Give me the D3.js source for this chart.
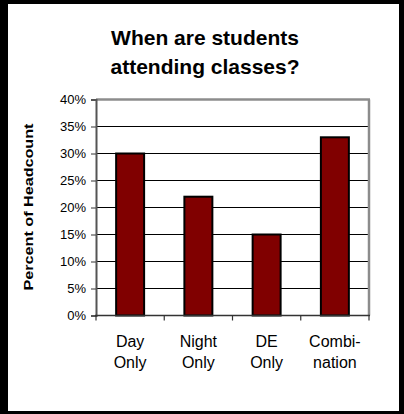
<!DOCTYPE html>
<html>
<head>
<meta charset="utf-8">
<script src="https://cdn.jsdelivr.net/npm/d3@7"></script>
<style>
  html, body { margin: 0; padding: 0; background: #fff; }
  svg { display: block; font-family: "Liberation Sans", Arial, sans-serif; }
</style>
</head>
<body>
<svg id="chart" width="404" height="414"></svg>
<script>
const categories = [["Day", "Only"], ["Night", "Only"], ["DE", "Only"], ["Combi-", "nation"]];
const values = [30, 22, 15, 33];
const yTicks = [0, 5, 10, 15, 20, 25, 30, 35, 40];
const titleLines = ["When are students", "attending classes?"];
const yTitle = "Percent of Headcount";

const svg = d3.select("#chart");

// Outer frame
svg.append("rect").attr("x", 0).attr("y", 0).attr("width", 404).attr("height", 414).attr("fill", "#000");
svg.append("rect").attr("x", 8).attr("y", 4).attr("width", 391).attr("height", 407).attr("fill", "#fff");

const pLeft = 96, pRight = 369, pTop = 99.5, pBottom = 315.5;

const x = d3.scaleBand()
  .domain(d3.range(categories.length))
  .range([pLeft, pRight])
  .paddingInner(0.59)
  .paddingOuter(0.295);

const y = d3.scaleLinear().domain([0, 40]).range([pBottom, pTop]);

// Title
svg.append("text")
  .attr("text-anchor", "middle")
  .attr("font-weight", "bold")
  .attr("font-size", 21)
  .attr("fill", "#000")
  .selectAll("tspan")
  .data(titleLines)
  .join("tspan")
  .attr("x", 205)
  .attr("y", (d, i) => 45 + i * 29)
  .text(d => d);

// Gridlines (5%..35%)
svg.append("g")
  .selectAll("line")
  .data(yTicks.filter(t => t > 0 && t < 40))
  .join("line")
  .attr("x1", pLeft).attr("x2", pRight)
  .attr("y1", d => y(d)).attr("y2", d => y(d))
  .attr("stroke", "#000").attr("stroke-width", 1);

// Plot border (top & right, gray)
svg.append("line").attr("x1", pLeft).attr("x2", pRight + 1).attr("y1", y(40)).attr("y2", y(40))
  .attr("stroke", "#8c8c8c").attr("stroke-width", 2.5);
svg.append("line").attr("x1", pRight).attr("x2", pRight).attr("y1", y(40)).attr("y2", pBottom)
  .attr("stroke", "#8c8c8c").attr("stroke-width", 2.5);

// Bars
svg.append("g")
  .selectAll("rect")
  .data(values)
  .join("rect")
  .attr("x", (d, i) => x(i))
  .attr("y", d => y(d))
  .attr("width", x.bandwidth())
  .attr("height", d => pBottom - y(d))
  .attr("fill", "#800000")
  .attr("stroke", "#000")
  .attr("stroke-width", 2);

// Y axis
const yAxis = d3.axisLeft(y)
  .tickValues(yTicks)
  .tickFormat(d => d + "%")
  .tickSize(5)
  .tickPadding(5);
const gy = svg.append("g").attr("transform", `translate(${pLeft},0)`).call(yAxis);
gy.select(".domain").attr("stroke", "#555").attr("stroke-width", 2);
gy.selectAll(".tick line").attr("stroke", "#555").attr("stroke-width", 1.2);
gy.selectAll(".tick text")
  .attr("font-family", "Liberation Sans, Arial, sans-serif")
  .attr("font-size", 13)
  .attr("fill", "#000");

// X axis (ticks at category boundaries)
svg.append("line").attr("x1", pLeft - 1).attr("x2", pRight + 1).attr("y1", pBottom).attr("y2", pBottom)
  .attr("stroke", "#333").attr("stroke-width", 1.5);
const bounds = d3.range(categories.length + 1).map(i => pLeft + i * x.step());
svg.append("g")
  .selectAll("line")
  .data(bounds)
  .join("line")
  .attr("x1", d => d).attr("x2", d => d)
  .attr("y1", pBottom).attr("y2", pBottom + 5)
  .attr("stroke", "#333").attr("stroke-width", 1.2);

// X labels
svg.append("g")
  .selectAll("text")
  .data(categories)
  .join("text")
  .attr("text-anchor", "middle")
  .attr("font-size", 16)
  .attr("fill", "#000")
  .each(function(d, i) {
    const cx = x(i) + x.bandwidth() / 2;
    d3.select(this).selectAll("tspan")
      .data(d)
      .join("tspan")
      .attr("x", cx)
      .attr("y", (t, j) => 347 + j * 21)
      .text(t => t);
  });

// Y title
svg.append("text")
  .attr("transform", "translate(33,207) rotate(-90)")
  .attr("text-anchor", "middle")
  .attr("font-weight", "bold")
  .attr("font-size", 13)
  .attr("fill", "#000")
  .attr("textLength", 167)
  .attr("lengthAdjust", "spacingAndGlyphs")
  .text(yTitle);
</script>
</body>
</html>
